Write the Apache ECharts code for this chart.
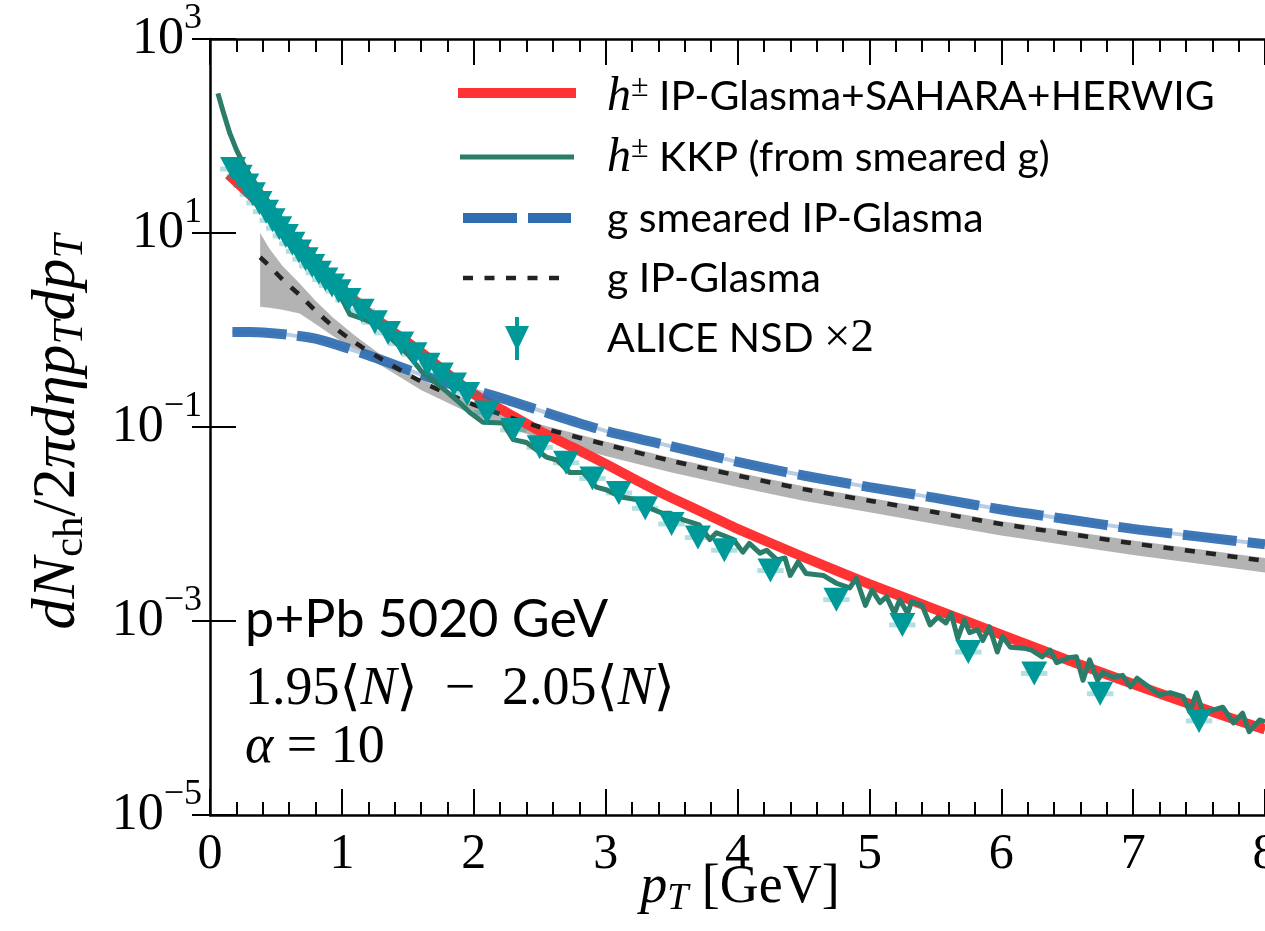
<!DOCTYPE html>
<html>
<head>
<meta charset="utf-8">
<script src="https://cdn.jsdelivr.net/npm/echarts@6/dist/echarts.min.js"></script>
<style>
  html, body { margin: 0; padding: 0; background: #fff; }
  #chart { width: 1265px; height: 931px; }
</style>
</head>
<body>
<div id="chart"></div>
<script>
// h± from IP-Glasma + SAHARA + HERWIG
const redPt  = [0.14, 0.3, 0.45, 0.6, 0.75, 0.9, 1.0, 1.1, 1.2, 1.4, 1.6, 1.8, 2.0, 2.25, 2.5, 2.75, 3.0, 3.25, 3.5, 3.75, 4.0, 4.5, 5.0, 5.5, 6.0, 6.5, 7.0, 7.5, 8.0];
const redVal = [40, 25.1, 15.8, 10.0, 6.17, 3.72, 2.69, 2.00, 1.51, 0.933, 0.589, 0.355, 0.219, 0.141, 0.0912, 0.0617, 0.0417, 0.0275, 0.0186, 0.0129, 8.91e-3, 4.57e-3, 2.40e-3, 1.32e-3, 7.24e-4, 3.98e-4, 2.24e-4, 1.29e-4, 7.59e-5];

// h± KKP fragmentation of the smeared gluon spectrum
const kkpPt  = [0.06, 0.1, 0.15, 0.2, 0.25, 0.3, 0.4, 0.5, 0.6, 0.7, 0.8, 0.9, 1.0, 1.06, 1.15, 1.27, 1.4, 1.5, 1.6, 1.69, 1.8, 1.9, 1.97,
  2.07, 2.22, 2.3, 2.4, 2.55, 2.63, 2.73, 2.83, 2.93, 3.01, 3.11, 3.24, 3.34, 3.43, 3.49, 3.59, 3.71, 3.79, 3.84, 3.97,
  4.04, 4.09, 4.17, 4.22, 4.3, 4.36, 4.4, 4.46, 4.52, 4.65, 4.75, 4.85, 4.9, 4.97, 5.02, 5.08, 5.13, 5.19, 5.23, 5.29, 5.32,
  5.4, 5.46, 5.52, 5.58, 5.62, 5.67, 5.72, 5.76, 5.82, 5.86, 5.91, 5.97, 6.01, 6.07, 6.17, 6.23, 6.31, 6.37, 6.42, 6.51,
  6.57, 6.62, 6.67, 6.73, 6.77, 6.85, 6.92, 6.98, 7.03, 7.13, 7.2, 7.28, 7.38, 7.43, 7.48, 7.53, 7.6, 7.68, 7.76, 7.83, 7.88, 7.96, 8.0];
const kkpVal = [275, 178, 107, 72.4, 52.5, 39.8, 25.1, 16.6, 11.0, 7.41, 5.01, 3.31, 2.09, 1.45, 1.32, 1.12, 0.759, 0.562, 0.380, 0.302, 0.229, 0.174, 0.141,
  0.112, 0.110, 0.0741, 0.0692, 0.0490, 0.0457, 0.0339, 0.0339, 0.0240, 0.0224, 0.0191, 0.0178, 0.0145, 0.0129, 0.0129, 0.0110, 9.77e-3, 6.92e-3, 8.13e-3, 6.92e-3,
  5.13e-3, 6.31e-3, 5.01e-3, 5.37e-3, 4.27e-3, 4.47e-3, 2.95e-3, 4.07e-3, 3.09e-3, 2.95e-3, 2.45e-3, 2.19e-3, 2.75e-3, 1.45e-3, 2.09e-3, 1.55e-3, 1.78e-3, 1.20e-3, 1.66e-3, 1.20e-3, 1.58e-3,
  1.45e-3, 9.12e-4, 1.10e-3, 9.55e-4, 1.20e-3, 6.61e-4, 1.02e-3, 7.59e-4, 8.13e-4, 6.31e-4, 8.71e-4, 4.79e-4, 6.92e-4, 5.37e-4, 5.25e-4, 5.01e-4, 4.27e-4, 5.01e-4, 3.72e-4, 4.17e-4,
  4.27e-4, 2.45e-4, 3.98e-4, 2.45e-4, 2.95e-4, 2.63e-4, 2.75e-4, 2.09e-4, 2.57e-4, 2.04e-4, 1.74e-4, 1.82e-4, 1.66e-4, 1.15e-4, 1.82e-4, 1.15e-4, 1.20e-4, 1.29e-4, 8.91e-5, 1.12e-4, 7.24e-5, 9.55e-5, 9.12e-5];

// smeared gluon spectrum
const gSmPt  = [0.17, 0.3, 0.45, 0.6, 0.8, 1.0, 1.2, 1.4, 1.6, 1.8, 2.0, 2.25, 2.5, 2.75, 3.0, 3.5, 4.0, 4.5, 5.0, 5.5, 6.0, 6.5, 7.0, 7.5, 8.0];
const gSmVal = [0.955, 0.955, 0.933, 0.891, 0.813, 0.676, 0.550, 0.437, 0.347, 0.282, 0.240, 0.191, 0.148, 0.115, 0.0912, 0.0631, 0.0437, 0.0316, 0.0240, 0.0186, 0.0141, 0.0112, 8.91e-3, 7.41e-3, 6.17e-3];

// IP-Glasma gluon spectrum with its uncertainty band
const gPt    = [0.38, 0.45, 0.55, 0.68, 0.8, 0.93, 1.1, 1.3, 1.6, 2.0, 2.5, 3.0, 3.5, 4.0, 4.5, 5.0, 5.5, 6.0, 6.5, 7.0, 7.5, 8.0];
const gVal   = [5.62, 4.57, 3.31, 2.29, 1.58, 1.10, 0.741, 0.501, 0.295, 0.170, 0.100, 0.0661, 0.0447, 0.0316, 0.0229, 0.0174, 0.0132, 0.0100, 7.94e-3, 6.31e-3, 5.13e-3, 4.17e-3];
const gBandHi = [10.0, 6.92, 4.57, 3.02, 2.00, 1.35, 0.871, 0.550, 0.309, 0.178, 0.107, 0.0708, 0.0479, 0.0339, 0.0245, 0.0186, 0.0141, 0.0107, 8.51e-3, 6.76e-3, 5.50e-3, 4.47e-3];
const gBandLo = [1.74, 1.70, 1.62, 1.48, 1.15, 0.871, 0.617, 0.427, 0.240, 0.132, 0.0759, 0.0501, 0.0339, 0.0240, 0.0174, 0.0132, 0.0100, 7.59e-3, 6.03e-3, 4.79e-3, 3.89e-3, 3.16e-3];

// ALICE NSD p+Pb charged hadrons, scaled by 2
const alicePt  = [0.175, 0.225, 0.275, 0.325, 0.375, 0.425, 0.475, 0.525, 0.575, 0.625, 0.675, 0.725, 0.775, 0.825, 0.875, 0.925, 0.975,
  1.05, 1.15, 1.25, 1.35, 1.45, 1.55, 1.65, 1.75, 1.85, 1.95, 2.1, 2.3, 2.5, 2.7, 2.9, 3.1, 3.3, 3.5, 3.7, 3.9,
  4.25, 4.75, 5.25, 5.75, 6.25, 6.75, 7.5];
const aliceVal = [45.7, 38.0, 30.9, 25.1, 20.4, 16.6, 13.5, 11.2, 9.33, 7.76, 6.46, 5.37, 4.57, 3.89, 3.31, 2.88, 2.51,
  2.04, 1.58, 1.20, 0.933, 0.724, 0.562, 0.437, 0.347, 0.275, 0.219, 0.141, 0.0933, 0.0617, 0.0427, 0.0295, 0.0209, 0.0145, 0.0100, 7.24e-3, 5.37e-3,
  3.31e-3, 1.66e-3, 9.12e-4, 4.79e-4, 2.88e-4, 1.78e-4, 9.33e-5];

// axis ticks
const xTicks = [0, 1, 2, 3, 4, 5, 6, 7, 8];
const yTickExp = [-5, -3, -1, 1, 3];

const legendLabels = [
  '{h|h}{pm|±}{t| IP-Glasma+SAHARA+HERWIG}',
  '{h|h}{pm|±}{t| KKP (from smeared g)}',
  '{t|g smeared IP-Glasma}',
  '{t|g IP-Glasma}',
  '{t|ALICE NSD }{m|×2}'
];

const SERIF = "'Liberation Serif', 'DejaVu Serif', serif";
const SANS = "Lato, Roboto, 'DejaVu Sans', sans-serif";

const RED = '#ff3333';
const GREEN = '#2b7d69';
const BLUE = '#2f6db0';
const BLUE_LIGHT = '#b7cce6';
const DARK = '#222222';
const TEAL = '#009999';
const GREY = '#b3b3b3';

const pairs = (xs, ys) => xs.map((x, i) => [x, ys[i]]);

const chart = echarts.init(document.getElementById('chart'), null, { renderer: 'canvas' });

const tickStyle = { color: '#000', width: 2 };
const spine = { show: true, onZero: false, lineStyle: { color: '#000', width: 2.5 } };

function xAxisDef(pos, showLabels) {
  return {
    type: 'value', position: pos, min: xTicks[0], max: xTicks[xTicks.length - 1], interval: 1,
    axisLine: spine,
    axisTick: { show: true, inside: true, length: 26, lineStyle: tickStyle },
    minorTick: { show: true, splitNumber: 5, length: 13, lineStyle: tickStyle },
    splitLine: { show: false }, minorSplitLine: { show: false },
    axisLabel: {
      show: showLabels, margin: 15, color: '#000', fontFamily: SERIF, fontSize: 50, lineHeight: 50,
      formatter: v => (xTicks.indexOf(v) >= 0 ? String(v) : '')
    }
  };
}

function supExp(e) { return e < 0 ? '\u2212' + (-e) : String(e); }

function yAxisDef(pos, showLabels) {
  return {
    type: 'log', logBase: 10, position: pos, min: Math.pow(10, yTickExp[0]), max: Math.pow(10, yTickExp[yTickExp.length - 1]), interval: 2,
    axisLine: pos === 'left' ? spine : { show: false },
    axisTick: { show: true, inside: true, length: pos === 'left' ? 26 : 18, lineStyle: tickStyle },
    minorTick: { show: false },
    splitLine: { show: false }, minorSplitLine: { show: false },
    axisLabel: {
      show: showLabels, margin: 8, color: '#000',
      formatter: v => {
        const e = Math.round(Math.log10(v));
        return yTickExp.indexOf(e) >= 0 ? '{b|10}{s|' + supExp(e) + '}' : '';
      },
      rich: {
        b: { fontFamily: SERIF, fontSize: 52, lineHeight: 76, color: '#000' },
        s: { fontFamily: SERIF, fontSize: 36, lineHeight: 36, verticalAlign: 'top', color: '#000' }
      }
    }
  };
}

const legendRich = {
  h: { fontFamily: SERIF, fontStyle: 'italic', fontSize: 48, lineHeight: 50, color: '#000' },
  pm: { fontFamily: SERIF, fontSize: 32, lineHeight: 28, verticalAlign: 'top', color: '#000' },
  t: { fontFamily: SANS, fontSize: 41, lineHeight: 50, color: '#000' },
  m: { fontFamily: SERIF, fontSize: 47, lineHeight: 50, color: '#000' }
};
const legendRowY = [97, 158, 219, 279, 339];

const graphics = [];
legendLabels.forEach((txt, i) => {
  graphics.push({ type: 'text', x: 607, y: legendRowY[i], z: 20,
    style: { text: txt, rich: legendRich, align: 'left', verticalAlign: 'middle' } });
});
// legend keys
graphics.push({ type: 'line', z: 20, shape: { x1: 458, y1: 93, x2: 576, y2: 93 }, style: { stroke: RED, lineWidth: 10 } });
graphics.push({ type: 'line', z: 20, shape: { x1: 460, y1: 157, x2: 574, y2: 157 }, style: { stroke: GREEN, lineWidth: 5 } });
graphics.push({ type: 'line', z: 20, shape: { x1: 463, y1: 218, x2: 571, y2: 218 }, style: { stroke: BLUE, lineWidth: 10, lineDash: [54, 11] } });
graphics.push({ type: 'line', z: 20, shape: { x1: 463, y1: 278, x2: 561, y2: 278 }, style: { stroke: DARK, lineWidth: 4.5, lineDash: [10, 11.5] } });
graphics.push({ type: 'line', z: 20, shape: { x1: 517, y1: 317, x2: 517, y2: 360 }, style: { stroke: TEAL, lineWidth: 4 } });
graphics.push({ type: 'polygon', z: 20, shape: { points: [[505, 326], [529, 326], [517, 351]] }, style: { fill: TEAL } });

// system annotation
const noteRich = {
  r: { fontFamily: SERIF, fontSize: 54, color: '#000' },
  i: { fontFamily: SERIF, fontStyle: 'italic', fontSize: 54, color: '#000' }
};
graphics.push({ type: 'text', x: 245, y: 620, z: 20,
  style: { text: 'p+Pb 5020 GeV', fontFamily: SANS, fontSize: 52, fill: '#000', align: 'left', verticalAlign: 'middle' } });
graphics.push({ type: 'text', x: 245, y: 690, z: 20,
  style: { text: '{r|1.95\u27E8}{i|N}{r|\u27E9\u2002\u2212\u20022.05\u27E8}{i|N}{r|\u27E9}', align: 'left', verticalAlign: 'middle', rich: noteRich } });
graphics.push({ type: 'text', x: 245, y: 748, z: 20,
  style: { text: '{i|\u03B1}{r| = 10}', align: 'left', verticalAlign: 'middle', rich: noteRich } });

// axis titles
const xTitleRich = {
  i: { fontFamily: SERIF, fontStyle: 'italic', fontSize: 54, lineHeight: 60, color: '#000' },
  r: { fontFamily: SERIF, fontSize: 54, lineHeight: 60, color: '#000' },
  subi: { fontFamily: SERIF, fontStyle: 'italic', fontSize: 38, lineHeight: 36, verticalAlign: 'bottom', color: '#000' }
};
const yTitleRich = {
  i: { fontFamily: SERIF, fontStyle: 'italic', fontSize: 62, lineHeight: 68, color: '#000' },
  r: { fontFamily: SERIF, fontSize: 62, lineHeight: 68, color: '#000' },
  sub: { fontFamily: SERIF, fontSize: 43, lineHeight: 40, verticalAlign: 'bottom', color: '#000' },
  subi: { fontFamily: SERIF, fontStyle: 'italic', fontSize: 43, lineHeight: 40, verticalAlign: 'bottom', color: '#000' }
};
graphics.push({ type: 'text', x: 740, y: 888, z: 20,
  style: { text: '{i|p}{subi|T}{r| [GeV]}', rich: xTitleRich, align: 'center', verticalAlign: 'middle' } });
graphics.push({ type: 'text', x: 58, y: 432, rotation: Math.PI / 2, z: 20,
  style: { text: '{i|dN}{sub|ch}{r|/2}{i|\u03C0d\u03B7p}{subi|T}{i|dp}{subi|T}', rich: yTitleRich, align: 'center', verticalAlign: 'middle' } });

const option = {
  animation: false,
  backgroundColor: '#ffffff',
  grid: { left: 210, right: 0, top: 39, bottom: 116, outerBoundsMode: 'none' },
  xAxis: [xAxisDef('bottom', true), xAxisDef('top', false)],
  yAxis: [yAxisDef('left', true), yAxisDef('right', false)],
  graphic: graphics,
  series: [
    {
      name: 'g IP-Glasma band', type: 'custom', z: 1, clip: true,
      data: gPt.map((x, i) => [x, gBandLo[i], gBandHi[i]]),
      renderItem(params, api) {
        if (params.dataIndex !== 0) return null;
        const pts = [];
        for (let i = 0; i < gPt.length; i++) pts.push(api.coord([gPt[i], gBandHi[i]]));
        for (let i = gPt.length - 1; i >= 0; i--) pts.push(api.coord([gPt[i], gBandLo[i]]));
        return { type: 'polygon', shape: { points: pts }, style: { fill: GREY } };
      }
    },
    {
      name: 'g smeared band', type: 'line', z: 2, data: pairs(gSmPt, gSmVal), showSymbol: false, smooth: false,
      lineStyle: { color: BLUE_LIGHT, width: 4 }
    },
    {
      name: 'h IP-Glasma+SAHARA+HERWIG', type: 'line', z: 3, data: pairs(redPt, redVal), showSymbol: false, smooth: 0.2,
      lineStyle: { color: RED, width: 10, cap: 'butt', join: 'round' }
    },
    {
      name: 'g smeared IP-Glasma', type: 'line', z: 4, data: pairs(gSmPt, gSmVal), showSymbol: false, smooth: 0.3,
      lineStyle: { color: BLUE, width: 10, type: [54, 11], opacity: 0.92, cap: 'butt' }
    },
    {
      name: 'g IP-Glasma', type: 'line', z: 5, data: pairs(gPt, gVal), showSymbol: false, smooth: 0.3,
      lineStyle: { color: DARK, width: 4.5, type: [10, 11.5], cap: 'butt' }
    },
    {
      name: 'ALICE syst', type: 'custom', z: 6,
      data: pairs(alicePt, aliceVal),
      renderItem(params, api) {
        const x = api.value(0), y = api.value(1);
        const a = api.coord([x - 0.1, y]), b = api.coord([x + 0.1, y]);
        return { type: 'line', shape: { x1: a[0], y1: a[1], x2: b[0], y2: b[1] }, style: { stroke: 'rgba(0,153,153,0.3)', lineWidth: 5 } };
      }
    },
    {
      name: 'h KKP', type: 'line', z: 7, data: pairs(kkpPt, kkpVal), showSymbol: false, smooth: false,
      lineStyle: { color: GREEN, width: 5, join: 'round' }
    },
    {
      name: 'ALICE NSD x2', type: 'scatter', z: 8, data: pairs(alicePt, aliceVal),
      symbol: 'triangle', symbolRotate: 180, symbolSize: [26, 24],
      itemStyle: { color: TEAL, opacity: 1 }
    }
  ]
};

chart.setOption(option);
</script>
</body>
</html>
